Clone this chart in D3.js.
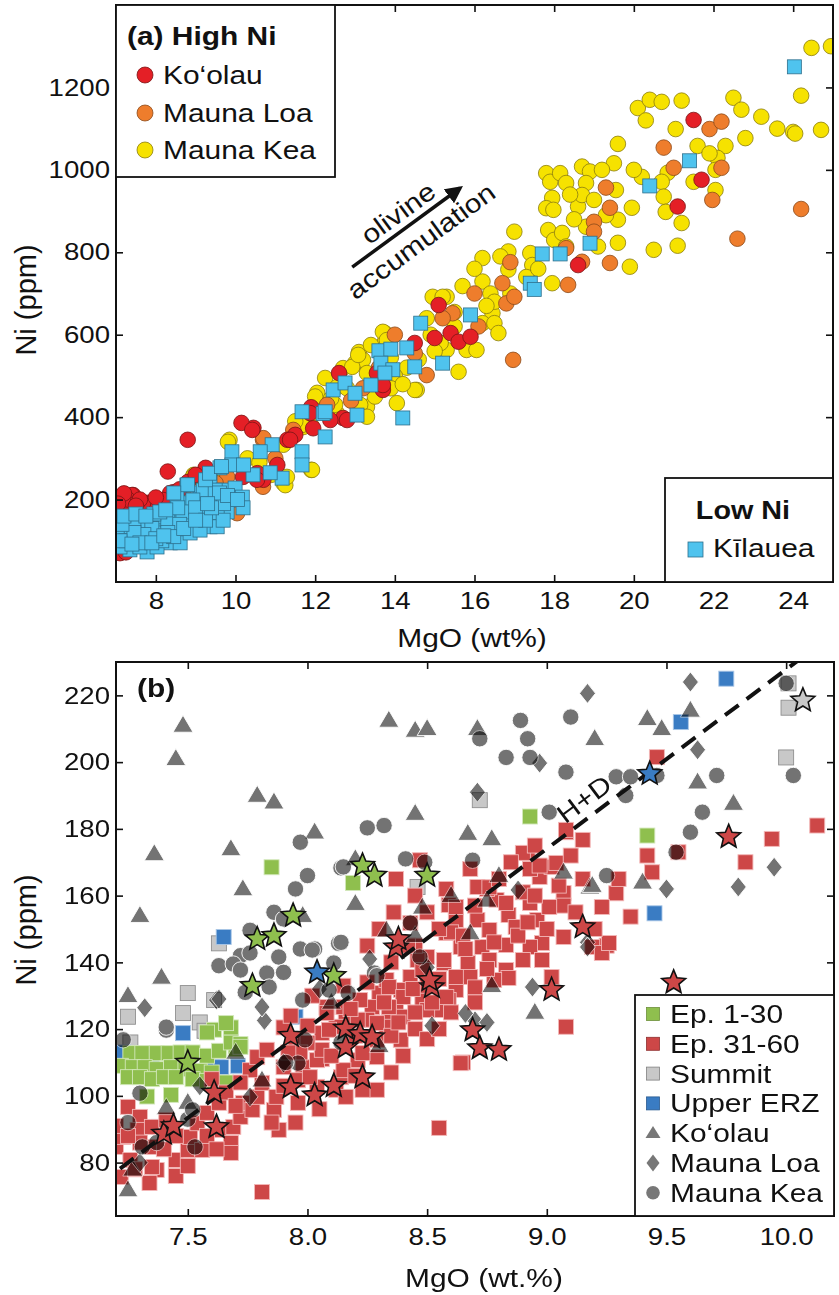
<!DOCTYPE html>
<html><head><meta charset="utf-8">
<script src="https://cdn.jsdelivr.net/npm/d3@7"></script>
<style>body{margin:0;background:#fff} text{font-family:"Liberation Sans",Arial,Helvetica,sans-serif;fill:#111}</style>
</head><body><svg id="c" width="839" height="1295"></svg>
<script>
// ---------- Panel (a) data: [MgO wt%, Ni ppm] ----------
const xTicksA = [8,10,12,14,16,18,20,22,24];
const yTicksA = [200,400,600,800,1000,1200];
const kilaueaA = [[24.03,1250],[21.4,1022],[20.4,961],[17.7,796],[18.15,796],[18.9,822],[17.4,725],[17.5,710],[15.9,648],[14.65,628],[15.2,531],[14.5,522],[14.3,568],[14.2,398],[13.6,561],[13.9,565],[13.65,531],[13.95,515],[13.75,507],[13.4,478],[12.45,466],[12.75,483],[13.0,458],[12.2,409],[13.05,405],[11.67,413],[12.25,413],[12.25,352],[11.67,316],[11.67,284],[11.17,252],[10.92,333],[10.62,316],[10.44,260],[10.87,265],[9.91,316],[9.91,284],[10.2,284],[9.61,277],[9.36,248],[8.78,235],[9.11,216],[9.69,223],[9.99,228],[10.17,206],[9.86,199],[10.19,180],[9.79,170],[9.54,158],[9.41,204],[9.11,199],[8.73,192],[8.43,167],[8.86,163],[9.19,167],[9.36,134],[8.98,134],[8.78,143],[8.53,119],[8.18,134],[7.98,119],[8.1,158],[7.85,150],[7.6,143],[7.35,126],[7.18,109],[7.53,102],[7.78,73],[7.35,78],[7.1,85],[7.85,109],[8.36,95],[8.61,95],[8.86,119],[9.11,126],[9.54,134],[9.69,150],[9.19,223],[9.49,223],[8.93,199],[8.53,206],[8.68,170],[7.68,134],[7.28,134],[7.03,119],[8.03,85],[7.6,85],[7.45,150],[7.9,130],[8.3,150],[8.6,140],[9.0,180],[8.3,120],[7.7,115],[7.25,100],[8.15,100],[8.45,110],[7.95,165],[8.0,105],[7.45,120],[9.25,150],[9.7,190],[8.55,180],[7.6,95],[7.15,140],[8.8,236],[9.25,248],[9.35,264],[9.65,280],[9.6,216],[8.45,216],[8.1,170],[7.2,160],[7.5,165],[7.75,160],[8.25,175],[7.1,100],[7.4,92],[7.9,95],[8.2,112],[8.7,130],[9.0,150],[9.4,180],[9.8,210],[10.05,200],[9.3,190]];
const koolauA = [[21.5,1121],[21.7,976],[21.1,911],[18.6,769],[15.1,672],[15.0,592],[15.4,604],[15.6,583],[15.9,595],[14.5,580],[13.55,507],[13.7,466],[12.6,507],[11.9,424],[12.7,398],[11.95,373],[11.5,357],[11.3,345],[11.05,284],[10.45,374],[10.15,386],[10.7,248],[10.55,264],[8.8,345],[8.3,268],[9.25,277],[7.43,211],[7.15,194],[7.78,192],[8.45,218],[8.05,192],[7.1,70],[10.42,369],[8.81,243],[8.36,216],[7.93,194],[7.4,211],[7.1,206],[7.18,180],[7.68,192],[8.18,199],[11.37,345],[11.87,410],[12.38,393],[10.54,248],[10.19,255],[7.25,72],[12.8,393],[13.7,478],[7.3,200],[7.55,195],[7.25,95],[8.6,225],[9.0,260],[7.6,200],[8.0,205],[7.2,215],[7.05,190],[7.5,185]];
const maunaLoaA = [[24.2,905],[21.9,1099],[22.2,1117],[20.75,1054],[22.2,1005],[21.97,927],[22.6,833],[21.0,1005],[19.3,957],[19.4,908],[19.0,874],[19.0,850],[18.3,810],[18.7,777],[19.4,774],[16.9,776],[16.7,725],[18.35,721],[16.0,700],[16.8,676],[15.45,652],[17.0,692],[16.1,620],[16.97,539],[14.8,502],[14.5,555],[10.69,345],[9.79,255],[10.69,231],[10.04,167],[11.45,369],[10.7,349],[13.2,470],[12.9,440],[13.6,520],[12.3,430],[9.5,240],[9.9,200],[11.0,300],[15.2,640],[14.0,600],[8.7,210]];
const maunaKeaA = [[24.46,1296],[24.95,1300],[24.2,1180],[24.0,1092],[24.05,1088],[24.7,1097],[20.1,1150],[20.4,1170],[20.7,1165],[21.2,1168],[22.5,1175],[22.7,1146],[23.2,1129],[21.05,1099],[22.8,1077],[21.6,1058],[22.3,1058],[19.6,1063],[22.1,1029],[22.05,1000],[21.5,971],[22.05,951],[20.85,993],[20.2,983],[20.7,971],[20.75,935],[20.8,898],[21.2,871],[20.5,806],[21.1,816],[19.9,765],[19.5,1016],[19.55,951],[19.6,879],[19.95,908],[17.8,992],[17.9,971],[18.15,992],[18.3,968],[18.7,1008],[18.9,996],[18.8,968],[17.95,932],[17.8,907],[17.98,903],[18.6,911],[18.7,939],[19.0,927],[18.8,862],[17.85,854],[18.0,830],[18.2,847],[18.3,814],[19.1,814],[19.6,823],[17.4,798],[17.45,769],[16.85,802],[16.2,786],[16.65,790],[16.85,758],[17.95,725],[15.7,718],[16.2,729],[16.4,700],[16.45,652],[15.3,692],[14.95,692],[16.5,680],[15.2,692],[16.2,628],[16.5,628],[16.6,604],[15.3,563],[15.8,563],[16.05,563],[14.9,600],[15.15,580],[15.6,510],[14.55,466],[14.05,434],[13.75,604],[13.75,583],[13.1,558],[13.0,531],[13.2,539],[13.3,507],[12.7,519],[13.3,425],[12.55,409],[11.9,380],[11.7,376],[11.9,272],[11.2,333],[11.2,240],[9.85,345],[8.95,260],[9.81,340],[11.92,272],[11.25,235],[11.29,255],[11.67,381],[12.05,459],[8.93,255],[12.25,495],[12.55,473],[12.93,522],[13.08,551],[13.7,607],[13.8,587],[13.13,430],[13.3,401],[14.5,466],[12.1,434],[14.3,520],[14.6,540],[15.5,620],[17.3,740],[16.0,760],[14.0,500],[13.5,450],[12.0,450],[10.3,300],[10.6,290],[11.5,390],[13.9,470],[15.0,560],[17.0,850],[19.2,1000],[21.9,1040],[23.6,1100],[20.3,1120],[18.4,940],[16.9,700],[9.6,250],[9.2,230],[10.9,260],[12.5,430],[14.8,640],[13.4,575],[13.9,545],[14.2,480],[12.8,470],[15.5,655],[16.3,670],[17.6,760],[18.5,880],[19.3,890],[20.0,1000],[13.6,490],[12.4,445]];
const arrowFrom = [12.93,764], arrowTo = [15.64,956];

// ---------- Panel (b) data ----------
const xTicksB = [7.5,8.0,8.5,9.0,9.5,10.0];
const yTicksB = [80,100,120,140,160,180,200,220];
const hdLine = [[7.217,78.2],[10.06,231]];
const ep1_30 = [[7.26,112.8],[7.31,112.8],[7.37,112.8],[7.42,112.8],[7.47,113],[7.52,113],[7.58,112],[7.63,113.5],[7.7,114],[7.68,116],[7.72,115.5],[7.61,119.8],[7.68,120.5],[7.66,121.8],[7.58,119],[7.72,114.7],[7.22,109],[7.27,108.6],[7.32,108.6],[7.37,108],[7.43,108.6],[7.49,108],[7.55,107.5],[7.6,107],[7.25,105.6],[7.3,105.6],[7.35,105],[7.4,105.6],[7.45,105.6],[7.52,105],[7.58,104.5],[7.66,104],[7.33,99.8],[7.43,100.3],[7.85,168.5],[8.19,163.8],[8.93,183.7],[9.42,178]];
const ep31_60 = [[9.46,201.5],[10.13,181],[9.94,177],[9.83,170],[9.55,173],[9.42,172],[9.44,167],[9.15,176.7],[9.08,179],[8.92,172.8],[9.29,160.7],[9.23,156.6],[9.35,153.7],[9.25,145],[9.19,144.6],[8.97,165.6],[9.02,168.6],[9.07,160.8],[9.07,157],[8.93,157.8],[8.9,161],[8.84,154.2],[8.79,158.7],[8.75,162],[8.59,157.2],[8.62,152.7],[8.71,152.7],[8.76,149.7],[8.87,150.6],[8.96,152.7],[9.01,156.6],[9.07,147.6],[8.98,145.8],[8.93,144.6],[8.83,145.2],[8.73,144.6],[8.64,144.6],[8.58,148.8],[8.5,141.6],[8.57,139.8],[8.67,139.8],[8.76,140.7],[8.83,137.7],[8.9,140.7],[8.98,140.7],[9.02,135.6],[8.84,135.3],[8.68,135.6],[8.62,131.7],[8.7,132.5],[8.59,128.7],[8.48,128.7],[8.43,135.6],[8.46,140.7],[8.4,130.8],[8.37,126.6],[8.54,125.7],[8.3,130.8],[8.27,126.6],[8.34,124.8],[8.22,128.7],[8.25,122.8],[8.16,123.7],[8.33,120.7],[8.27,116.8],[8.39,116.8],[8.12,120.7],[8.08,126.6],[8.06,118.8],[8.29,111.6],[8.21,110.7],[8.06,111],[8.14,105.6],[8.29,101.8],[8.04,102.7],[7.95,116.8],[7.98,108.6],[8.65,110],[9.08,120.7],[8.78,134.7],[9.23,142.8],[9.26,145.8],[8.37,165],[8.47,170.6],[9.08,179.7],[8.9,172.8],[8.93,168],[8.97,169],[9.04,169.8],[8.71,162.6],[8.76,162.5],[8.83,157.8],[8.62,156.6],[8.6,149],[8.43,151.8],[8.39,131.7],[8.33,134.7],[7.2,84.7],[7.23,87.7],[7.26,80.8],[7.25,96.7],[7.3,93.7],[7.29,89.8],[7.35,90.7],[7.35,84.7],[7.41,92.8],[7.37,77.8],[7.22,75.7],[7.45,80.8],[7.5,83.8],[7.51,87.7],[7.54,91.8],[7.58,94.9],[7.63,97.9],[7.63,89.8],[7.68,85.9],[7.69,90.7],[7.72,93.7],[7.73,97.9],[7.77,95.8],[7.79,99.7],[7.81,103.9],[7.86,95.8],[7.87,99.7],[7.76,107.7],[7.79,111.6],[7.83,113.8],[7.9,108.6],[7.96,104.7],[8.01,105.6],[8.04,110.7],[8.06,113.8],[8.09,119.8],[8.0,115.9],[8.08,124.8],[8.15,126.6],[8.15,107.7],[8.12,101.8],[8.23,101.8],[8.16,99.7],[7.96,97.9],[7.68,82.9],[7.56,83.8],[7.35,78.7],[7.34,73.9],[7.81,71.2],[8.55,90.4],[8.64,109.8],[8.29,121.8],[8.34,132.6],[8.4,129.6],[8.48,137.7],[8.57,140.7],[8.62,135.6],[8.58,129.6],[8.5,125.7],[8.4,123.7],[8.34,126.6],[8.23,112.8],[8.29,116.8],[8.21,122.8],[7.88,89.8],[7.6,105],[7.66,101],[7.9,120.5],[7.93,124],[8.2,118],[8.45,120],[8.5,133],[8.35,140],[8.25,145],[8.15,133],[8.02,130],[7.72,104],[7.45,88],[7.97,113],[8.36,155],[8.45,160],[8.3,150],[8.45,145],[8.55,150],[8.65,148],[8.7,157],[8.8,165],[8.85,170],[8.95,175],[8.88,148],[8.95,160],[9.0,150],[9.12,155],[9.15,165],[9.1,172],[8.55,135],[8.6,125],[8.7,128],[8.75,138],[8.45,125],[8.35,118],[8.4,112],[8.5,117],[8.55,120],[8.2,106],[8.35,107],[8.1,112],[7.9,103],[7.85,92],[7.95,92],[8.05,96],[7.7,97],[7.58,88],[7.62,84],[7.4,84],[7.3,86],[7.28,78],[7.45,76],[7.5,79],[7.2,91],[7.25,88],[7.92,113],[8.0,121],[8.18,126],[8.25,134],[8.32,128],[8.38,122],[8.44,132],[8.52,128],[8.66,144],[8.78,146],[8.92,152],[9.05,163],[9.2,150],[9.3,165],[8.5,155],[8.58,162],[8.68,168],[8.42,145]];
const summit = [[7.63,145.7],[10.01,223.6],[10.01,216.3],[10.0,201.4],[8.72,188.6],[8.46,162.6],[7.5,130.8],[7.25,123.7],[7.48,124.8],[7.55,122],[7.61,128.7],[7.57,119.5],[7.26,116]];
const upperERZ = [[7.65,147.6],[9.75,225],[9.56,212],[9.45,154.7],[7.95,123.7],[7.48,118.8],[7.6,108.6],[7.64,108.6],[7.35,108.6],[7.38,90.7],[7.23,113],[7.71,109]];
const koolauB = [[7.48,211],[7.45,201],[7.36,172.5],[7.3,154],[7.79,190],[7.86,188],[7.68,174],[8.03,179],[7.73,162],[8.34,212.5],[8.45,209.5],[8.45,184.6],[8.2,157.6],[8.2,171],[8.33,149.6],[7.98,154],[8.5,210],[8.71,210],[9.2,207],[9.42,213],[9.48,210],[9.6,215.5],[9.63,194],[9.78,187.6],[8.67,178.6],[8.77,177],[8.8,166],[8.6,160],[9.18,162.5],[9.4,164],[9.07,167],[8.75,158.6],[8.68,148.8],[7.39,135.5],[7.25,130],[7.25,71.8],[7.81,104.7],[7.41,96.4],[8.77,133],[8.48,156.5],[9.19,163],[7.27,78],[7.5,98],[8.1,128],[8.45,148],[8.3,115],[7.7,113],[8.95,125]];
const maunaLoaB = [[9.6,224],[9.17,220.6],[9.63,203.7],[8.97,199.7],[8.71,191],[8.88,161.7],[9.95,168.5],[9.8,162.6],[9.5,162],[9.17,146],[8.26,141],[8.7,122.5],[8.75,122],[8.52,121],[8.94,132.6],[9.17,144.6],[8.5,138.5],[7.32,126.4],[7.62,128.7],[7.82,122.6],[7.81,126.6],[7.76,99.7],[7.9,109.8],[7.63,129],[8.66,124.7],[7.3,80],[8.05,132],[7.55,103]];
const maunaKeaB = [[8.25,180.3],[8.32,181],[7.97,176],[8.0,166],[7.95,162],[8.14,168.3],[8.41,171],[7.86,155],[7.9,153],[7.97,144],[8.03,144],[8.13,145.7],[7.76,149.6],[7.72,142],[8.89,212.5],[9.1,213.5],[8.92,207],[8.83,201.4],[8.93,201.4],[9.08,197],[9.29,195.6],[9.35,195.6],[9.33,190],[9.46,196],[9.71,196],[9.65,185],[9.6,179],[9.54,173],[10.03,196],[10.0,223.6],[9.01,185],[8.69,170.6],[9.25,166],[8.49,170],[8.72,207],[8.15,168.6],[8.14,146],[8.02,143.7],[8.11,139.8],[7.98,128.7],[8.09,131.7],[8.28,136.8],[8.47,141.6],[8.43,151.8],[7.63,139],[7.69,139.5],[7.76,142.8],[7.72,137.7],[7.83,136.8],[7.88,141.6],[7.84,132.6],[7.9,137],[7.74,131],[7.41,119.7],[7.3,100.8],[7.25,92],[7.53,84.7],[7.5,93],[7.31,84.7],[7.37,86],[7.96,109.8],[7.91,110],[7.23,116.8],[7.99,116.8],[8.14,116],[8.29,136],[8.17,130.8],[7.52,95.8],[7.41,120.6]];
const starsGreen = [[7.79,147],[7.86,148],[7.94,154],[8.23,169],[8.28,166],[8.5,166],[7.5,110],[7.77,133],[8.11,136]];
const starsRed = [[7.4,88.7],[7.44,91],[7.61,101],[7.62,90.7],[7.93,118],[7.93,102.6],[8.03,100.2],[8.11,103],[8.23,105.6],[8.16,120.2],[8.16,114.6],[8.22,118.5],[8.27,117.6],[8.37,144.5],[8.38,147],[8.52,132.6],[8.51,134.7],[9.15,150.6],[9.02,131.8],[8.69,119.7],[8.72,114.3],[8.8,113.8],[9.76,177.6],[9.53,134]];
const starsBlue = [[8.04,137],[9.43,196.5]];
const starsGray = [[10.07,218.5]];
const legendB = ["Ep. 1-30","Ep. 31-60","Summit","Upper ERZ","Ko\u2018olau","Mauna Loa","Mauna Kea"];

// ---------- helpers ----------
const svg = d3.select("#c");
const K = 1.15;
function stretch(sel,k){ sel.each(function(){ const L=this.getComputedTextLength(); d3.select(this).attr("textLength",L*k).attr("lengthAdjust","spacingAndGlyphs"); }); }
function triPath(w,h){ return `M0,${-h*0.6}L${w/2},${h*0.4}L${-w/2},${h*0.4}Z`; }
function diaPath(w,h){ return `M0,${-h/2}L${w/2},0L0,${h/2}L${-w/2},0Z`; }
function starPath(R,r){ let p=""; for(let i=0;i<10;i++){ const a=-Math.PI/2+i*Math.PI/5; const rr=i%2?r:R; p+=(i?"L":"M")+(rr*Math.cos(a)).toFixed(2)+","+(rr*Math.sin(a)).toFixed(2);} return p+"Z"; }

// ======================= Panel (a) =======================
const xA = d3.scaleLinear().domain([7,25]).range([116,833]);
const yA = d3.scaleLinear().domain([0,1400]).range([582,5]);
svg.append("clipPath").attr("id","clipA").append("rect").attr("x",116).attr("y",5).attr("width",717).attr("height",577);
const gA = svg.append("g").attr("clip-path","url(#clipA)");
function circlesA(data,fill,stroke){ gA.append("g").selectAll("circle").data(data).join("circle").attr("cx",d=>xA(d[0])).attr("cy",d=>yA(d[1])).attr("r",7.8).attr("fill",fill).attr("stroke",stroke).attr("stroke-width",0.8); }
circlesA(maunaKeaA,"#f6e200","#8a7c10");
circlesA(maunaLoaA,"#ee7d2c","#8a4a1a");
circlesA(koolauA,"#e41f26","#7a1515");
gA.append("g").selectAll("rect").data(kilaueaA).join("rect").attr("x",d=>xA(d[0])-7).attr("y",d=>yA(d[1])-7).attr("width",14).attr("height",14).attr("fill","#4fc3ee").attr("stroke","#2d6f8c").attr("stroke-width",0.8);

// axes (a)
function styleAxis(g){ g.select(".domain").remove(); g.selectAll("line").attr("stroke","#111").attr("stroke-width",1.6); g.selectAll("text").attr("font-size",24).attr("fill","#111").attr("font-family","Liberation Sans, Arial, sans-serif"); }
svg.append("g").attr("transform","translate(0,582)").call(d3.axisBottom(xA).tickValues(xTicksA).tickFormat(d3.format("d")).tickSize(-7).tickPadding(10)).call(styleAxis).selectAll("text").attr("class","s");
svg.append("g").attr("transform","translate(0,5)").call(d3.axisTop(xA).tickValues(xTicksA).tickSize(-7).tickFormat("")).call(styleAxis);
svg.append("g").attr("transform","translate(116,0)").call(d3.axisLeft(yA).tickValues(yTicksA).tickFormat(d3.format("d")).tickSize(-7).tickPadding(6)).call(styleAxis).selectAll("text").attr("class","s");
svg.append("g").attr("transform","translate(833,0)").call(d3.axisRight(yA).tickValues(yTicksA).tickSize(-7).tickFormat("")).call(styleAxis);
svg.append("rect").attr("x",116).attr("y",5).attr("width",717).attr("height",577).attr("fill","none").attr("stroke","#111").attr("stroke-width",2);

// legend High Ni
svg.append("rect").attr("x",116).attr("y",5).attr("width",219).attr("height",172).attr("fill","#fff").attr("stroke","#111").attr("stroke-width",1.8);
svg.append("text").attr("class","s").attr("x",127).attr("y",45).attr("font-size",26).attr("font-weight","bold").text("(a) High Ni");
const legA = [["Ko\u2018olau","#e41f26","#7a1515"],["Mauna Loa","#ee7d2c","#8a4a1a"],["Mauna Kea","#f6e200","#8a7c10"]];
legA.forEach((d,i)=>{ const cy=[75,113,150][i];
  svg.append("circle").attr("cx",145).attr("cy",cy).attr("r",8).attr("fill",d[1]).attr("stroke",d[2]).attr("stroke-width",0.8);
  svg.append("text").attr("class","s").attr("x",163).attr("y",cy+9).attr("font-size",26).text(d[0]); });
// legend Low Ni
svg.append("rect").attr("x",665).attr("y",478).attr("width",168).attr("height",104).attr("fill","#fff").attr("stroke","#111").attr("stroke-width",1.8);
svg.append("text").attr("class","s").attr("x",743).attr("y",519).attr("text-anchor","middle").attr("font-size",25).attr("font-weight","bold").text("Low Ni");
svg.append("rect").attr("x",688).attr("y",542).attr("width",15).attr("height",15).attr("fill","#4fc3ee").attr("stroke","#2d6f8c").attr("stroke-width",0.8);
svg.append("text").attr("class","s").attr("x",713).attr("y",557).attr("font-size",26).text("K\u012Blauea");

// arrow
svg.append("defs").append("marker").attr("id","ah").attr("viewBox","0 0 10 10").attr("refX",8).attr("refY",5).attr("markerWidth",5).attr("markerHeight",5).attr("orient","auto").append("path").attr("d","M0,0L10,5L0,10Z").attr("fill","#111");
const ax0=xA(arrowFrom[0]), ay0=yA(arrowFrom[1]), ax1=xA(arrowTo[0]), ay1=yA(arrowTo[1]);
svg.append("line").attr("x1",ax0).attr("y1",ay0).attr("x2",ax1).attr("y2",ay1).attr("stroke","#111").attr("stroke-width",3.5).attr("marker-end","url(#ah)");
const ang = Math.atan2(ay1-ay0,ax1-ax0)*180/Math.PI;
svg.append("text").attr("class","s").attr("transform",`translate(398,213) rotate(${ang})`).attr("text-anchor","middle").attr("dy","0.35em").attr("font-size",26).text("olivine");
svg.append("text").attr("class","s").attr("transform",`translate(421,241) rotate(${ang})`).attr("text-anchor","middle").attr("dy","0.35em").attr("font-size",26).text("accumulation");

// axis titles (a)
svg.append("text").attr("class","s").attr("x",472).attr("y",647).attr("text-anchor","middle").attr("font-size",26).text("MgO (wt%)");
svg.append("text").attr("transform","translate(36,300) rotate(-90)").attr("text-anchor","middle").attr("font-size",29).text("Ni (ppm)");

// ======================= Panel (b) =======================
const xB = d3.scaleLinear().domain([7.2,10.2]).range([116,834]);
const yB = d3.scaleLinear().domain([64,230]).range([1216,662]);
svg.append("clipPath").attr("id","clipB").append("rect").attr("x",116).attr("y",662).attr("width",718).attr("height",554);
const gB = svg.append("g").attr("clip-path","url(#clipB)");
function squaresB(data,fill,stroke,s){ gB.append("g").selectAll("rect").data(data).join("rect").attr("x",d=>xB(d[0])-s/2).attr("y",d=>yB(d[1])-s/2).attr("width",s).attr("height",s).attr("fill",fill).attr("stroke",stroke).attr("stroke-width",0.9); }
squaresB(summit,"#c8c8c8","#8f8f8f",15);
squaresB(upperERZ,"#3a7cc3","#a9c6e6",15);
squaresB(ep1_30,"#8fbf4e","#d3e8bb",15);
squaresB(ep31_60,"#cd4747","#f3b8b8",15);
function grayGroup(data,path){ gB.append("g").attr("opacity",0.55).selectAll("path").data(data).join("path").attr("d",path).attr("transform",d=>`translate(${xB(d[0])},${yB(d[1])})`).attr("fill","#000").attr("stroke","#fff").attr("stroke-width",0.9); }
grayGroup(koolauB, triPath(20,17));
grayGroup(maunaLoaB, diaPath(16,20));
grayGroup(maunaKeaB, d3.symbol(d3.symbolCircle, Math.PI*8.2*8.2)());
gB.append("line").attr("x1",xB(hdLine[0][0])).attr("y1",yB(hdLine[0][1])).attr("x2",xB(hdLine[1][0])).attr("y2",yB(hdLine[1][1])).attr("stroke","#111").attr("stroke-width",4).attr("stroke-dasharray","17,10");
function starsB(data,fill){ gB.append("g").selectAll("path").data(data).join("path").attr("d",starPath(12.5,5.6)).attr("transform",d=>`translate(${xB(d[0])},${yB(d[1])})`).attr("fill",fill).attr("stroke","#111").attr("stroke-width",1.6).attr("stroke-linejoin","miter"); }
starsB(starsRed,"#cd4747");
starsB(starsGreen,"#8fbf4e");
starsB(starsBlue,"#3a7cc3");
starsB(starsGray,"#c8c8c8");
// H+D label
const hx0=xB(hdLine[0][0]), hy0=yB(hdLine[0][1]), hx1=xB(hdLine[1][0]), hy1=yB(hdLine[1][1]);
const hang = Math.atan2(hy1-hy0,hx1-hx0)*180/Math.PI;
svg.append("text").attr("class","s").attr("transform",`translate(584,799) rotate(${hang})`).attr("text-anchor","middle").attr("dy","0.35em").attr("font-size",26).text("H+D");

// axes (b)
svg.append("g").attr("transform","translate(0,1216)").call(d3.axisBottom(xB).tickValues(xTicksB).tickFormat(d3.format(".1f")).tickSize(-7).tickPadding(12)).call(styleAxis).selectAll("text").attr("class","s");
svg.append("g").attr("transform","translate(0,662)").call(d3.axisTop(xB).tickValues(xTicksB).tickSize(-7).tickFormat("")).call(styleAxis);
svg.append("g").attr("transform","translate(116,0)").call(d3.axisLeft(yB).tickValues(yTicksB).tickSize(-7).tickPadding(6)).call(styleAxis).selectAll("text").attr("class","s");
svg.append("g").attr("transform","translate(834,0)").call(d3.axisRight(yB).tickValues(yTicksB).tickSize(-7).tickFormat("")).call(styleAxis);
svg.append("rect").attr("x",116).attr("y",662).attr("width",718).attr("height",554).attr("fill","none").attr("stroke","#111").attr("stroke-width",2);
svg.append("text").attr("class","s").attr("x",137).attr("y",697).attr("font-size",26).attr("font-weight","bold").text("(b)");

// legend (b)
svg.append("rect").attr("x",635).attr("y",995).attr("width",199).attr("height",221).attr("fill","#fff").attr("stroke","#111").attr("stroke-width",1.8);
const legMark = [
  g=>g.append("rect").attr("x",-6.5).attr("y",-6.5).attr("width",13).attr("height",13).attr("fill","#8fbf4e").attr("stroke","#6d8f3a").attr("stroke-width",0.8),
  g=>g.append("rect").attr("x",-6.5).attr("y",-6.5).attr("width",13).attr("height",13).attr("fill","#cd4747").attr("stroke","#8e2f2f").attr("stroke-width",0.8),
  g=>g.append("rect").attr("x",-6.5).attr("y",-6.5).attr("width",13).attr("height",13).attr("fill","#c8c8c8").attr("stroke","#808080").attr("stroke-width",0.8),
  g=>g.append("rect").attr("x",-6.5).attr("y",-6.5).attr("width",13).attr("height",13).attr("fill","#3a7cc3").attr("stroke","#2a5a90").attr("stroke-width",0.8),
  g=>g.append("path").attr("d",triPath(15,12)).attr("fill","#777"),
  g=>g.append("path").attr("d",diaPath(13,17)).attr("fill","#777"),
  g=>g.append("circle").attr("r",6.8).attr("fill","#777")
];
legendB.forEach((t,i)=>{ const base=1023+i*29.8;
  const g=svg.append("g").attr("transform",`translate(653,${base-9})`); legMark[i](g);
  svg.append("text").attr("class","s").attr("x",670).attr("y",base).attr("font-size",26).text(t); });

// axis titles (b)
svg.append("text").attr("class","s").attr("x",484).attr("y",1287).attr("text-anchor","middle").attr("font-size",26).text("MgO (wt.%)");
svg.append("text").attr("transform","translate(36,930) rotate(-90)").attr("text-anchor","middle").attr("font-size",29).text("Ni (ppm)");

stretch(d3.selectAll("text.s"),K);
</script></body></html>
